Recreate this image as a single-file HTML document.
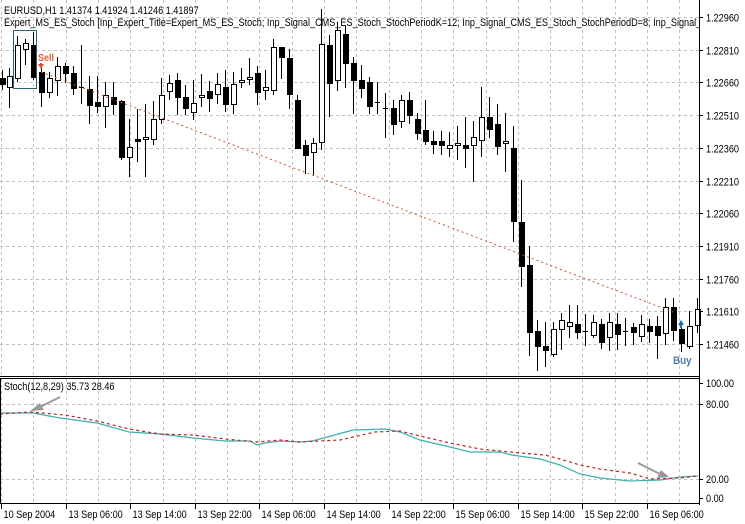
<!DOCTYPE html><html><head><style>body{margin:0;background:#fff}svg{display:block}text{font-family:"Liberation Sans","DejaVu Sans",sans-serif;font-size:11px;fill:#000}</style></head><body>
<svg width="745" height="524" xmlns="http://www.w3.org/2000/svg">
<rect width="745" height="524" fill="#fff"/>
<g id="grid" stroke="#c0c0c0" stroke-dasharray="3,3" stroke-width="1"></g>
<g id="candles"></g>
<line x1="41" y1="72" x2="673" y2="312" stroke="#c8552a" stroke-dasharray="2,3" stroke-width="1"/>
<rect x="13.5" y="30.5" width="23" height="58" fill="none" stroke="#2c5f7a" stroke-width="1"/>
<text transform="translate(38,61) scale(.9,1)" style="fill:#e0603a;font-weight:bold;font-size:10px">Sell</text>
<path d="M38,64 h6 l-3,5 z M40,63 h2 v2 h-2z" fill="#e0502a"/>
<path d="M678,325 h6 l-3,-5 z M680,325 h2 v3 h-2z" fill="#1e6fb0"/>
<text transform="translate(673,364) scale(.9,1)" style="fill:#4a7fb0;font-weight:bold;font-size:11px">Buy</text>
<polyline fill="none" stroke="#3cb0b0" stroke-width="1.2" points="0,413 33,413 60,418 97,423 129,432 160,434 193,438 225,441 250,441 257,445 265,443 280,441 300,442 312,441 320,439 353,430 385,429 400,432 420,440 450,447 470,452 500,452 512,455 540,459 560,465 580,474 600,478 630,481 660,480 680,477 698,476"/>
<polyline fill="none" stroke="#c02020" stroke-width="1.2" stroke-dasharray="3,3" points="0,414 30,412 65,415 97,421 129,429 160,434 193,435 225,439 257,442 280,440 300,442 320,441 340,440 375,432 400,431 420,436 450,443 480,449 520,453 545,455 560,459 580,465 600,469 630,473 650,479 680,478 698,476"/>
<line x1="60" y1="397" x2="38" y2="408" stroke="#999" stroke-width="2"/><path d="M30,411 l10,-8 l4,7z" fill="#999"/>
<line x1="638" y1="463" x2="660" y2="474" stroke="#999" stroke-width="2"/><path d="M669,477 l-12,1 l4,-8z" fill="#999"/>
<g stroke="#000" fill="none"><line x1="699.5" y1="0" x2="699.5" y2="505"/><line x1="0" y1="376.5" x2="700" y2="376.5"/><line x1="0" y1="378.5" x2="700" y2="378.5"/><line x1="0" y1="503.5" x2="700" y2="503.5"/><line x1="0.5" y1="378" x2="0.5" y2="504"/></g>
<text transform="translate(4,14) scale(.83,1)">EURUSD,H1  1.41374 1.41924 1.41246 1.41897</text>
<text transform="translate(4,26) scale(.83,1)">Expert_MS_ES_Stoch [Inp_Expert_Title=Expert_MS_ES_Stoch; Inp_Signal_CMS_ES_Stoch_StochPeriodK=12; Inp_Signal_CMS_ES_Stoch_StochPeriodD=8; Inp_Signal_</text>
<text transform="translate(4,390) scale(.83,1)">Stoch(12,8,29) 35.73 28.46</text>
<rect x="700" y="0" width="45" height="30" fill="#fff"/>
<g id="axis"></g>
</svg>
<script>
var ns="http://www.w3.org/2000/svg";
function el(p,t,a,txt){var e=document.createElementNS(ns,t);for(var k in a)e.setAttribute(k,a[k]);if(txt)e.textContent=txt;document.getElementById(p).appendChild(e);}
function tx(x,y,s){el('axis','text',{transform:'translate('+x+','+y+') scale(.83,1)'},s);}
for(var x=1;x<699;x+=32.3){var xx=Math.round(x)+0.5;el('grid','line',{x1:xx,y1:0,x2:xx,y2:376});el('grid','line',{x1:xx,y1:379,x2:xx,y2:503});}
var pl=['1.22960','1.22810','1.22660','1.22510','1.22360','1.22210','1.22060','1.21910','1.21760','1.21610','1.21460'];
for(var i=0;i<11;i++){var y=Math.round(17+i*32.7)+0.5;el('grid','line',{x1:0,y1:y,x2:699,y2:y});el('axis','line',{x1:699,y1:y,x2:703,y2:y,stroke:'#000'});tx(706,y+4,pl[i]);}
[[383,'100.00'],[404,'80.00'],[479,'20.00'],[498,'0.00']].forEach(function(s){if(s[0]==404||s[0]==479)el('grid','line',{x1:0,y1:s[0]+.5,x2:699,y2:s[0]+.5});el('axis','line',{x1:699,y1:s[0]+.5,x2:703,y2:s[0]+.5,stroke:'#000'});tx(706,s[0]+4,s[1]);});
var tl=['10 Sep 2004','13 Sep 06:00','13 Sep 14:00','13 Sep 22:00','14 Sep 06:00','14 Sep 14:00','14 Sep 22:00','15 Sep 06:00','15 Sep 14:00','15 Sep 22:00','16 Sep 06:00'];
for(var i=0;i<11;i++){var x=Math.round(1+i*64.6)+0.5;el('axis','line',{x1:x,y1:504,x2:x,y2:509,stroke:'#000'});tx(x+2,518,tl[i]);}
var C=[[2,78,84,70,90],[9,87,76,68,108],[17,78,45,36,82],[25,49,43,39,65],[33,45,77,32,80],[41,72,92,68,107],[49,92,78,72,98],[57,80,66,57,96],[65,66,73,63,83],[73,73,88,66,95],[81,87,87,45,104],[89,89,105,76,124],[97,102,106,76,113],[105,106,95,82,128],[113,97,104,82,115],[121,101,157,100,160],[129,157,147,119,177],[137,139,141,109,162],[145,139,137,104,177],[153,139,119,101,145],[161,119,95,78,124],[169,91,83,75,100],[177,80,97,73,115],[185,97,108,85,115],[193,112,103,80,120],[201,97,95,74,107],[209,91,98,81,112],[217,94,84,73,104],[225,87,104,70,112],[233,104,84,72,114],[241,82,80,68,88],[249,79,77,58,85],[257,73,92,66,105],[265,90,87,70,100],[273,90,47,39,95],[281,47,57,47,79],[289,58,94,49,109],[297,100,148,95,148],[305,145,155,140,174],[313,152,143,138,175],[321,142,44,9,150],[329,45,83,35,117],[337,80,30,22,91],[345,34,63,26,88],[353,63,80,57,114],[361,80,88,65,98],[369,82,106,77,114],[377,102,102,82,114],[385,108,108,93,138],[393,108,124,100,135],[401,121,100,95,128],[409,100,115,92,124],[417,119,133,113,140],[425,130,141,100,145],[433,141,144,131,154],[441,141,145,131,155],[449,148,145,132,157],[457,145,143,126,160],[465,145,148,117,168],[473,145,137,121,182],[481,140,117,87,157],[489,117,129,97,138],[497,124,146,104,155],[505,143,141,113,172],[513,148,221,126,242],[521,222,266,180,287],[529,265,332,246,356],[537,331,346,320,371],[545,346,350,322,367],[553,354,329,322,357],[561,329,320,313,350],[569,326,322,305,338],[577,324,332,305,339],[585,331,331,314,346],[593,335,322,315,338],[601,324,342,319,349],[609,337,322,313,351],[617,324,334,313,350],[625,331,331,318,346],[633,327,332,323,345],[641,336,324,315,342],[649,326,331,319,343],[657,326,335,316,359],[665,333,307,298,345],[673,307,330,298,341],[681,329,343,321,352],[689,346,326,311,349],[697,325,309,298,333]];
C.forEach(function(c){var x=c[0],o=c[1],cl=c[2];el('candles','line',{x1:x+.5,y1:c[3],x2:x+.5,y2:c[4],stroke:'#000','stroke-width':1});
var t=Math.min(o,cl),b=Math.max(o,cl);
if(b-t<1){el('candles','line',{x1:x-2,y1:t+.5,x2:x+3,y2:t+.5,stroke:'#000'});return;}
if(cl<o)el('candles','rect',{x:x-2+.5,y:t+.5,width:5,height:b-t,fill:'#fff',stroke:'#000'});
else el('candles','rect',{x:x-2,y:t,width:6,height:b-t+1,fill:'#000'});});
</script>
</body></html>
